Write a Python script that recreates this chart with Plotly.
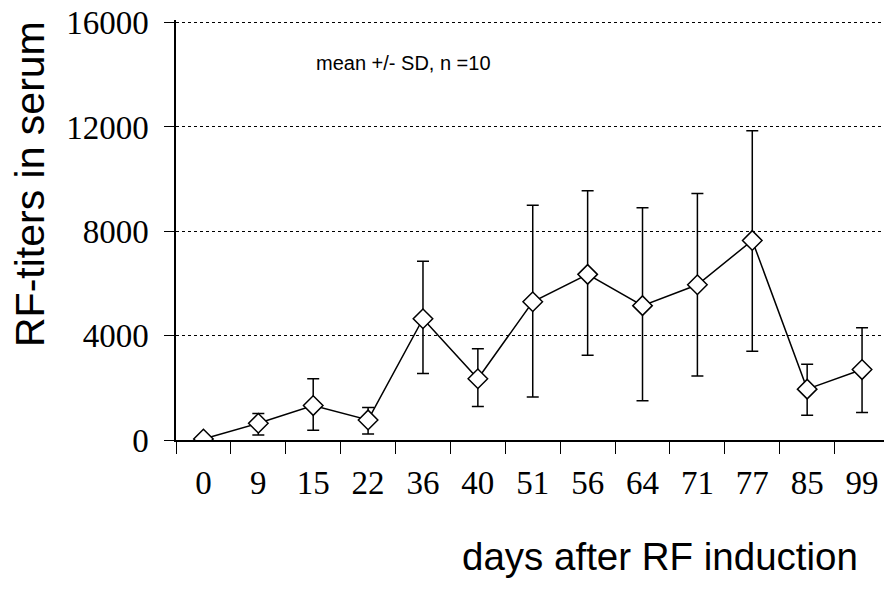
import plotly.graph_objects as go

days = ["0", "9", "15", "22", "36", "40", "51", "56", "64", "71", "77", "85", "99"]
mean_titer = [40, 640, 1320, 770, 4650, 2350, 5300, 6350, 5150, 5950, 7650, 1950, 2700]
sd_plus = [0, 380, 1030, 480, 2200, 1150, 3700, 3200, 3750, 3500, 4200, 950, 1600]
sd_minus = [0, 450, 950, 540, 2100, 1070, 3650, 3100, 3650, 3500, 4250, 1000, 1650]
y_ticks = [0, 4000, 8000, 12000, 16000]
y_tick_labels = ["0", "4000", "8000", "12000", "16000"]

fig = go.Figure()
fig.add_trace(go.Scatter(
    x=days, y=mean_titer,
    mode="lines+markers",
    line=dict(color="black", width=1.5),
    marker=dict(symbol="diamond", size=15, color="white",
                line=dict(color="black", width=1.5)),
    error_y=dict(type="data", array=sd_plus, arrayminus=sd_minus,
                 color="black", thickness=1.5, width=6),
    showlegend=False,
))

fig.update_layout(
    width=884, height=595,
    margin=dict(l=176, r=0, t=20, b=155),
    plot_bgcolor="white", paper_bgcolor="white",
    font=dict(family="Liberation Serif", color="black"),
    xaxis=dict(
        type="category", range=[-0.5, 12.4],
        showline=True, linecolor="black", linewidth=1.5,
        ticks="outside", tickson="boundaries", ticklen=12, tickcolor="black", tickwidth=1,
        tickfont=dict(family="Liberation Serif", size=33, color="black"),
        ticklabelstandoff=13,
        showgrid=False, zeroline=False,
    ),
    yaxis=dict(
        range=[0, 16100], tickvals=y_ticks, ticktext=y_tick_labels,
        showline=True, linecolor="black", linewidth=1.5,
        ticks="outside", ticklen=10, tickcolor="black", tickwidth=1,
        tickfont=dict(family="Liberation Serif", size=33, color="black"),
        ticklabelstandoff=9,
        showgrid=True, gridcolor="black", gridwidth=1, griddash="dot",
        zeroline=False,
    ),
    annotations=[
        dict(text="RF-titers in serum", xref="paper", yref="paper",
             x=(30 - 176) / 708, y=(440 - 184) / 420, textangle=-90, showarrow=False,
             xanchor="center", yanchor="middle",
             font=dict(family="Liberation Sans", size=41, color="black")),
        dict(text="days after RF induction", xref="paper", yref="paper",
             x=(660 - 176) / 708, y=(440 - 556) / 420, showarrow=False,
             xanchor="center", yanchor="middle",
             font=dict(family="Liberation Sans", size=38.5, color="black")),
        dict(text="mean +/- SD, n =10", xref="paper", yref="paper",
             x=(403 - 176) / 708, y=(440 - 63) / 420, showarrow=False,
             xanchor="center", yanchor="middle",
             font=dict(family="Liberation Sans", size=20, color="black")),
    ],
)

fig.write_html("out.html")
